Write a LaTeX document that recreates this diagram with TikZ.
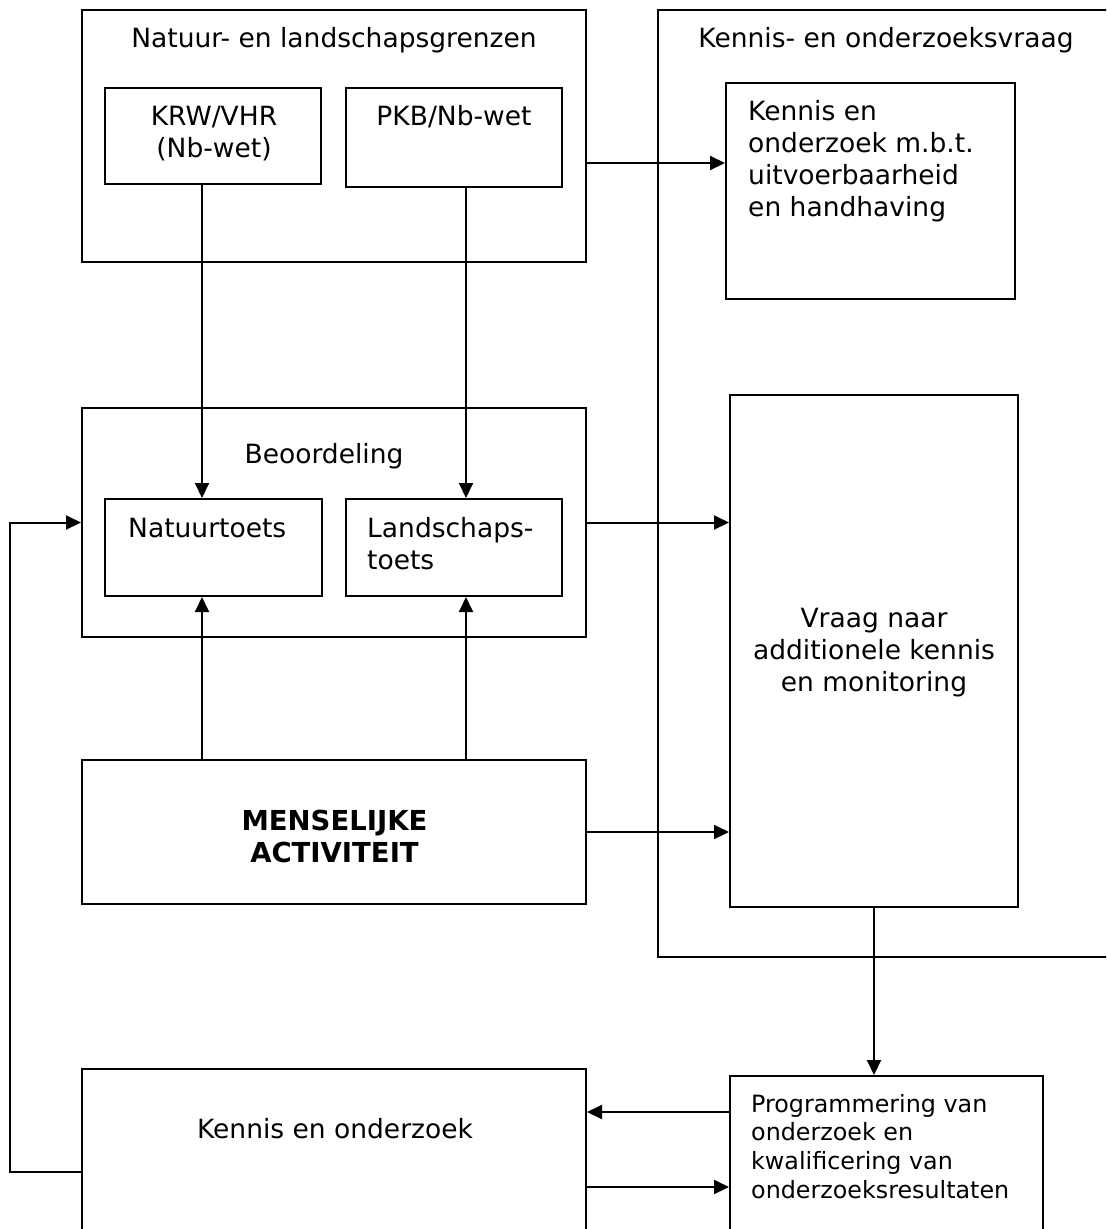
\documentclass[tikz,border=0pt]{standalone}
\usepackage{fontspec}
\setmainfont{DejaVu Sans}
\usetikzlibrary{arrows.meta}

\tikzset{
  frame/.style={draw,line width=2pt,inner sep=0pt},
  txt/.style={inner sep=0pt,font=\fontsize{26.5}{32}\selectfont},
  smalltxt/.style={inner sep=0pt,font=\fontsize{23.8}{28.6}\selectfont},
  arr/.style={line width=2pt,-{Triangle[length=15pt,width=14pt]}}
}

\begin{document}
\begin{tikzpicture}[x=1pt,y=-1pt]
      \clip (0,0) rectangle (1106,1229);
      % Frames
      % -- left column
      \node[frame,minimum width=504,minimum height=252] (grenzen) at (334,136) {};
      \node[frame,minimum width=216,minimum height=96] (krw) at (213,136) {};
      \node[frame,minimum width=216,minimum height=99] (pkb) at (454,137.5) {};
      \node[frame,minimum width=504,minimum height=229] (beoordeling) at (334,522.5) {};
      \node[frame,minimum width=217,minimum height=97] (natuur) at (213.5,547.5) {};
      \node[frame,minimum width=216,minimum height=97] (landschap) at (454,547.5) {};
      \node[frame,minimum width=504,minimum height=144] (menselijk) at (334,832) {};
      \node[frame,minimum width=504,minimum height=191] (kennis) at (334,1164.5) {};
      % -- right column
      \node[frame,minimum width=472,minimum height=947] (vraagkader) at (894,483.5) {};
      \node[frame,minimum width=289,minimum height=216] (uitvoer) at (870.5,191) {};
      \node[frame,minimum width=288,minimum height=512] (vraag) at (874,651) {};
      \node[frame,minimum width=313,minimum height=184] (program) at (886.5,1168) {};
      % Texts
      \begin{scope}[every node/.style={txt}]
        \node[anchor=base] (t-grenzen) at (334,47) {Natuur- en landschapsgrenzen};
        \node[anchor=north,align=center] (t-krw) at (214,106) {KRW/VHR\\(Nb-wet)};
        \node[anchor=base] (t-pkb) at (454,125) {PKB/Nb-wet};
        \node[anchor=base] (t-vraagkader) at (886,47) {Kennis- en onderzoeksvraag};
        \node[anchor=north west,align=left] (t-uitvoer) at (748,100)
          {Kennis en\\onderzoek m.b.t.\\uitvoerbaarheid\\en handhaving};
        \node[anchor=base] (t-beoordeling) at (324,463) {Beoordeling};
        \node[anchor=base west] (t-natuur) at (128,537) {Natuurtoets};
        \node[anchor=north west,align=left] (t-landschap) at (367,517) {Landschaps-\\toets};
        \node[anchor=north,align=center,font=\fontsize{27.5}{32}\selectfont\bfseries]
          (t-menselijk) at (334.5,810) {MENSELIJKE\\ACTIVITEIT};
        \node[anchor=north,align=center] (t-vraag) at (874,608)
          {Vraag naar\\additionele kennis\\en monitoring};
        \node[anchor=base] (t-kennis) at (335,1138) {Kennis en onderzoek};
        \node[smalltxt,anchor=north west,align=left] (t-program) at (751,1094)
          {Programmering van\\onderzoek en\\kwalificering van\\onderzoeksresultaten};
      \end{scope}
      % Connectors
      \coordinate (xa) at (202,0);
      \coordinate (xb) at (466,0);
      \coordinate (ya) at (0,163);
      \coordinate (yb) at (0,1112);
      \coordinate (yc) at (0,1187);
      \coordinate (terug) at (10,1172);
      \begin{scope}[every path/.style={arr}]
        \draw (krw.south -| xa) -- (natuur.north -| xa);
        \draw (pkb.south -| xb) -- (landschap.north -| xb);
        \draw (menselijk.north -| xa) -- (natuur.south -| xa);
        \draw (menselijk.north -| xb) -- (landschap.south -| xb);
        \draw (grenzen.east |- ya) -- (uitvoer.west |- ya);
        \draw (beoordeling.east) -- (vraag.west |- beoordeling.east);
        \draw (menselijk.east) -- (vraag.west |- menselijk.east);
        \draw (vraag.south) -- (program.north -| vraag.south);
        \draw (program.west |- yb) -- (kennis.east |- yb);
        \draw (kennis.east |- yc) -- (program.west |- yc);
        \draw (kennis.west |- terug) -- (terug) |- (beoordeling.west);
      \end{scope}
    \end{tikzpicture}
\end{document}
